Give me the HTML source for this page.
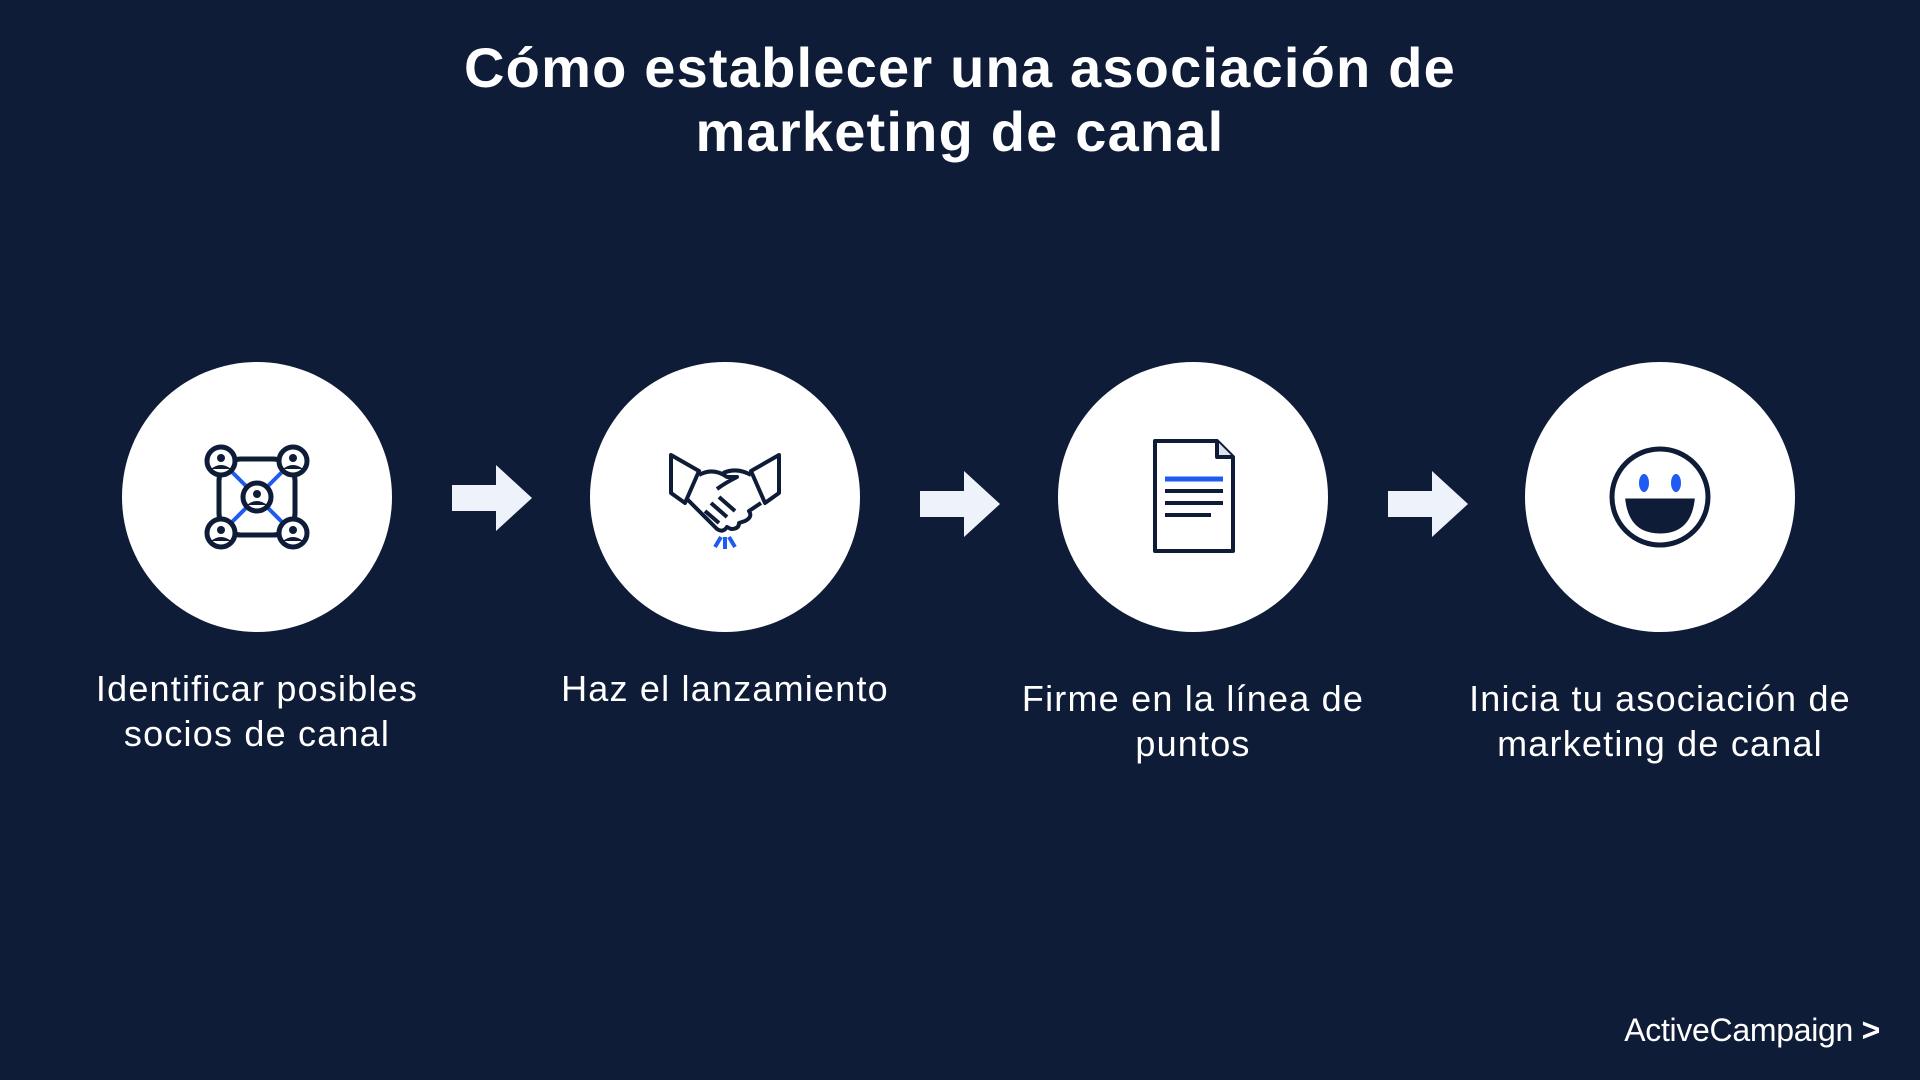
<!DOCTYPE html>
<html><head><meta charset="utf-8"><style>
html,body{margin:0;padding:0}
body{width:1920px;height:1080px;background:#0f1c38;position:relative;overflow:hidden;font-family:"Liberation Sans",sans-serif;color:#fff}
.title{position:absolute;top:36px;left:0;width:1920px;text-align:center;font-weight:bold;font-size:56px;line-height:64px;letter-spacing:1.2px}
.c{position:absolute;width:270px;height:270px;border-radius:50%;background:#fff;top:362px}
.c svg{position:absolute;left:75px;top:75px}
.lab{position:absolute;width:460px;text-align:center;font-size:36px;line-height:45px;letter-spacing:1.2px}
.arr{position:absolute}
.logo{position:absolute;right:40px;top:1012px;font-size:32px;letter-spacing:-0.3px}
</style></head><body>
<div class="title">Cómo establecer una asociación de<br>marketing de canal</div>

<div class="c" style="left:122px">
<svg width="120" height="120" viewBox="0 0 120 120" fill="none" stroke="#0f1c38" stroke-width="5">
<rect x="22" y="22" width="76" height="76" rx="22"/>
<g stroke="#1f5bf0" stroke-width="4"><line x1="35" y1="35" x2="52" y2="52"/><line x1="85" y1="35" x2="68" y2="52"/><line x1="35" y1="85" x2="52" y2="68"/><line x1="85" y1="85" x2="68" y2="68"/></g>
<g fill="#fff"><circle cx="24" cy="24" r="14"/><circle cx="96" cy="24" r="14"/><circle cx="24" cy="96" r="14"/><circle cx="96" cy="96" r="14"/><circle cx="60" cy="60" r="14"/></g>
<g fill="#0f1c38" stroke="none"><circle cx="24" cy="21" r="4"/><circle cx="96" cy="21" r="4"/><circle cx="24" cy="93" r="4"/><circle cx="96" cy="93" r="4"/><circle cx="60" cy="57" r="4"/>
<path d="M14 32 Q24 24 34 32 Z"/><path d="M86 32 Q96 24 106 32 Z"/><path d="M14 104 Q24 96 34 104 Z"/><path d="M86 104 Q96 96 106 104 Z"/><path d="M50 68 Q60 60 70 68 Z"/></g>
</svg></div>

<div class="c" style="left:590px">
<svg width="120" height="120" viewBox="0 0 120 120" fill="none" stroke="#0f1c38" stroke-width="4" stroke-linejoin="round">
<path d="M6 18 L34 34 L20 66 L6 56 Z"/><path d="M114 18 L86 34 L100 66 L114 56 Z"/>
<path d="M34 38 Q48 30 62 40 L72 40 Q60 46 52 52"/><path d="M86 38 Q72 30 58 36"/>
<path d="M22 62 L52 92 Q58 96 62 90 L66 92 Q74 92 74 86 L80 84 Q88 80 84 74 L96 66"/>
<path d="M40 74 L54 86 M46 66 L62 80 M54 60 L70 74"/>
<g stroke="#1f5bf0" stroke-width="4"><line x1="50" y1="110" x2="56" y2="100"/><line x1="60" y1="112" x2="60" y2="100"/><line x1="70" y1="110" x2="64" y2="100"/></g>
</svg></div>

<div class="c" style="left:1058px">
<svg width="120" height="120" viewBox="0 0 120 120" fill="none" stroke="#0f1c38" stroke-width="4" stroke-linejoin="round">
<path d="M22 4 L84 4 L100 20 L100 114 L22 114 Z"/><path d="M84 4 L84 20 L100 20" fill="#dde3ef"/>
<line x1="32" y1="42" x2="90" y2="42" stroke="#1f5bf0" stroke-width="5"/>
<line x1="32" y1="54" x2="90" y2="54"/><line x1="32" y1="66" x2="90" y2="66"/><line x1="32" y1="78" x2="78" y2="78"/>
</svg></div>

<div class="c" style="left:1525px">
<svg width="120" height="120" viewBox="0 0 120 120" fill="none" stroke="#0f1c38" stroke-width="5">
<circle cx="60" cy="60" r="48"/>
<g fill="#1f5bf0" stroke="none"><ellipse cx="44" cy="46" rx="5" ry="9"/><ellipse cx="76" cy="46" rx="5" ry="9"/></g>
<path d="M28 64 L92 64 Q88 94 60 94 Q32 94 28 64 Z" fill="#0f1c38"/>
</svg></div>

<svg class="arr" style="left:452px;top:465px" width="80" height="66" viewBox="0 0 80 66"><path d="M0 20 H44 V0 L80 33 L44 66 V46 H0 Z" fill="#eef3fb"/></svg>
<svg class="arr" style="left:920px;top:471px" width="80" height="66" viewBox="0 0 80 66"><path d="M0 20 H44 V0 L80 33 L44 66 V46 H0 Z" fill="#eef3fb"/></svg>
<svg class="arr" style="left:1388px;top:471px" width="80" height="66" viewBox="0 0 80 66"><path d="M0 20 H44 V0 L80 33 L44 66 V46 H0 Z" fill="#eef3fb"/></svg>

<div class="lab" style="left:27px;top:666px">Identificar posibles<br>socios de canal</div>
<div class="lab" style="left:495px;top:666px">Haz el lanzamiento</div>
<div class="lab" style="left:963px;top:676px">Firme en la línea de<br>puntos</div>
<div class="lab" style="left:1430px;top:676px">Inicia tu asociación de<br>marketing de canal</div>

<div class="logo">ActiveCampaign <span style="font-weight:bold">&gt;</span></div>
</body></html>
